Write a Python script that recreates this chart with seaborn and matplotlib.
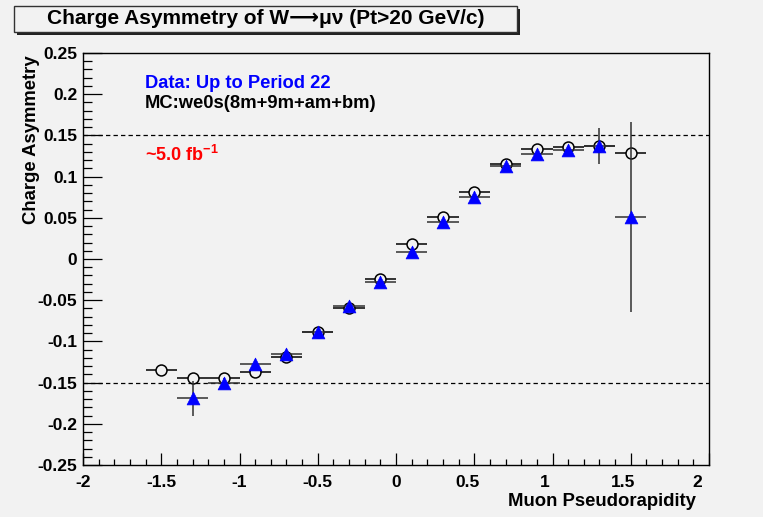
import numpy as np
import pandas as pd
import matplotlib
matplotlib.use("Agg")
import matplotlib.pyplot as plt
import matplotlib.transforms as mtransforms
from matplotlib.patches import Rectangle
from matplotlib.ticker import MultipleLocator, FixedLocator
import seaborn as sns

# ---------------- data ----------------
eta = [-1.5, -1.3, -1.1, -0.9, -0.7, -0.5, -0.3, -0.1, 0.1, 0.3, 0.5, 0.7, 0.9, 1.1, 1.3, 1.5]
mc_asym = [-0.135, -0.145, -0.144, -0.137, -0.119, -0.089, -0.060, -0.024,
           0.018, 0.051, 0.081, 0.115, 0.134, 0.136, 0.137, 0.129]
mc_err = [0.006, 0.003, 0.003, 0.003, 0.003, 0.003, 0.003, 0.003,
          0.003, 0.003, 0.003, 0.003, 0.003, 0.003, 0.003, 0.003]
data_eta = [-1.3, -1.1, -0.9, -0.7, -0.5, -0.3, -0.1, 0.1, 0.3, 0.5, 0.7, 0.9, 1.1, 1.3, 1.5]
data_asym = [-0.169, -0.151, -0.128, -0.115, -0.089, -0.057, -0.028, 0.008,
             0.045, 0.075, 0.113, 0.128, 0.132, 0.137, 0.051]
data_err = [0.021, 0.006, 0.005, 0.004, 0.004, 0.004, 0.004, 0.004,
            0.004, 0.004, 0.004, 0.004, 0.005, 0.022, 0.115]
bin_half = 0.1

x_ticks = [-2, -1.5, -1, -0.5, 0, 0.5, 1, 1.5, 2]
x_ticklabels = ["-2", "-1.5", "-1", "-0.5", "0", "0.5", "1", "1.5", "2"]
y_ticks = [-0.25, -0.2, -0.15, -0.1, -0.05, 0, 0.05, 0.1, 0.15, 0.2, 0.25]
y_ticklabels = ["-0.25", "-0.2", "-0.15", "-0.1", "-0.05", "0", "0.05", "0.1", "0.15", "0.2", "0.25"]
ref_lines = [0.15, -0.15]

mc_df = pd.DataFrame({"eta": eta, "asym": mc_asym, "err": mc_err})
data_df = pd.DataFrame({"eta": data_eta, "asym": data_asym, "err": data_err})

# ---------------- style ----------------
BG = "#f2f2f2"
sns.set_theme(style="ticks")
FAM = ["Liberation Sans", "DejaVu Sans"]
plt.rcParams["font.family"] = FAM
plt.rcParams["font.weight"] = "bold"
plt.rcParams["text.color"] = "black"
plt.rcParams["axes.labelcolor"] = "black"
plt.rcParams["xtick.color"] = "black"
plt.rcParams["ytick.color"] = "black"
plt.rcParams["mathtext.fontset"] = "custom"
plt.rcParams["mathtext.bf"] = "Liberation Sans:bold"
plt.rcParams["mathtext.rm"] = "Liberation Sans:bold"

W, H = 763, 517
fig = plt.figure(figsize=(7.63, 5.17), dpi=100, facecolor=BG)
ax = fig.add_axes([83 / W, 1 - 465 / H, (709 - 83) / W, (465 - 53) / H])
ax.set_facecolor(BG)

# reference dashed lines
for yv in ref_lines:
    ax.axhline(yv, color="black", lw=0.9, ls=(0, (3.5, 2.5)), zorder=1)

# MC error bars + open circles
ax.errorbar(mc_df["eta"], mc_df["asym"], xerr=bin_half, yerr=mc_df["err"],
            fmt="none", ecolor="black", elinewidth=1.1, capsize=0, zorder=2)
sns.scatterplot(data=mc_df, x="eta", y="asym", ax=ax, marker="o", s=62,
                facecolor=BG, edgecolor="black", linewidth=1.1, zorder=3, legend=False)

# data error bars + blue triangles
ax.errorbar(data_df["eta"], data_df["asym"], xerr=bin_half, yerr=data_df["err"],
            fmt="none", ecolor="#303030", elinewidth=1.1, capsize=0, zorder=4)
sns.scatterplot(data=data_df, x="eta", y="asym", ax=ax, marker="^", s=85,
                color="blue", edgecolor="blue", linewidth=0.5, zorder=5, legend=False)

ax.set_xlim(-2, 2)
ax.set_ylim(-0.25, 0.25)
ax.set_xlabel("")
ax.set_ylabel("")

ax.xaxis.set_major_locator(FixedLocator(x_ticks))
ax.set_xticklabels(x_ticklabels)
ax.yaxis.set_major_locator(FixedLocator(y_ticks))
ax.set_yticklabels(y_ticklabels)
ax.xaxis.set_minor_locator(MultipleLocator(0.1))
ax.yaxis.set_minor_locator(MultipleLocator(0.01))

ax.tick_params(axis="x", which="major", direction="in", length=8.6, width=0.9,
               labelsize=12.5, pad=7, colors="black")
ax.tick_params(axis="x", which="minor", direction="in", length=4, width=0.9)
ax.tick_params(axis="y", which="major", direction="in", length=13.5, width=0.9,
               labelsize=12.5, pad=4, colors="black")
ax.tick_params(axis="y", which="minor", direction="in", length=6.5, width=0.9)
ax.tick_params(top=False, right=False, which="both")
for lab in ax.get_xticklabels() + ax.get_yticklabels():
    lab.set_fontweight("bold")

# ROOT-style: positive x labels sit slightly left of their ticks
shifts = {"0.5": -7, "1": -8, "1.5": -8, "2": -12}
for lab in ax.get_xticklabels():
    dx = shifts.get(lab.get_text(), 0)
    if dx:
        lab.set_transform(lab.get_transform() +
                          mtransforms.ScaledTranslation(dx / 100, 0, fig.dpi_scale_trans))

for sp in ax.spines.values():
    sp.set_visible(True)
    sp.set_color("black")
    sp.set_linewidth(1.0)

# in-plot texts
fig.text(145 / W, 1 - 83 / H, "Data: Up to Period 22", color="blue",
         fontsize=13.2, fontweight="bold", va="center", ha="left")
fig.text(145 / W, 1 - 104 / H, "MC:we0s(8m+9m+am+bm)", color="black",
         fontsize=13.2, fontweight="bold", va="center", ha="left")
fig.text(145 / W, 1 - 155 / H, r"~5.0 fb$^{\mathbf{-1}}$", color="red",
         fontsize=13.0, fontweight="bold", va="center", ha="left")

# axis titles
fig.text(31.5 / W, 1 - 55 / H, "Charge Asymmetry", rotation=90,
         fontsize=13.3, fontweight="bold", ha="center", va="top")
fig.text(696 / W, 1 - 501 / H, "Muon Pseudorapidity",
         fontsize=13.3, fontweight="bold", ha="right", va="center")

# title box with shadow
bx0, bx1, by0, by1 = 14, 517, 6, 32
shadow = Rectangle(((bx0 + 3) / W, 1 - (by1 + 3) / H), (bx1 - bx0) / W, (by1 - by0) / H,
                   transform=fig.transFigure, facecolor="#222222", edgecolor="none", zorder=0)
box = Rectangle((bx0 / W, 1 - by1 / H), (bx1 - bx0) / W, (by1 - by0) / H,
                transform=fig.transFigure, facecolor=BG, edgecolor="#333333", lw=1.0, zorder=1)
fig.patches.extend([shadow, box])
fig.text((bx0 + bx1) / 2 / W, 1 - (by0 + by1) / 2 / H,
         "Charge Asymmetry of W\u27f6\u03bc\u03bd (Pt>20 GeV/c)",
         fontsize=15.0, fontweight="bold", ha="center", va="center", zorder=2)

fig.savefig("out.png", dpi=100, facecolor=BG)
